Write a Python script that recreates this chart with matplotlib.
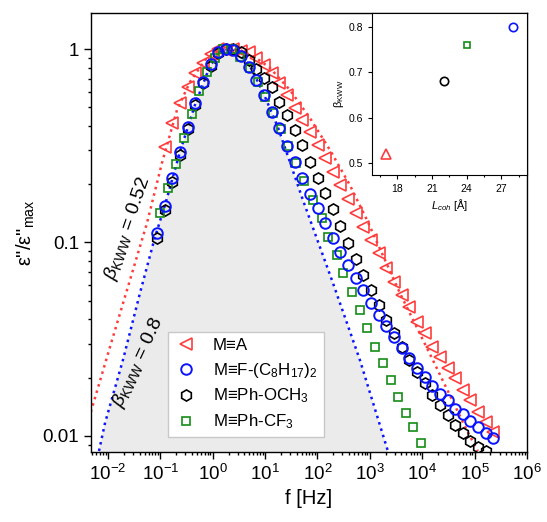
import matplotlib
matplotlib.use("Agg")
import matplotlib.pyplot as plt
from matplotlib.ticker import LogLocator, FixedLocator, NullFormatter, MultipleLocator

plt.rcParams['font.family'] = ['Liberation Sans', 'DejaVu Sans']
plt.rcParams['mathtext.fontset'] = 'custom'
plt.rcParams['mathtext.rm'] = 'Liberation Sans'
plt.rcParams['mathtext.it'] = 'Liberation Sans:italic'
plt.rcParams['mathtext.bf'] = 'Liberation Sans:bold'

# shared frequency grid (Hz) for A, F-(C8H17)2 and Ph-OCH3
freq = [0.0861, 0.1205, 0.1687, 0.236, 0.330, 0.462, 0.647, 0.906, 1.268, 1.774,
        2.483, 3.475, 4.864, 6.808, 9.528, 13.34, 18.66, 26.12, 36.56, 51.17,
        71.61, 100.2, 140.3, 196.3, 274.8, 384.6, 538.3, 753.4, 1054, 1476,
        2065, 2891, 4046, 5662, 7925, 11090, 15520, 21730, 30410, 42560,
        59570, 83370, 116700, 163300, 228600]

# M=A (starts at second grid point)
eps_A = [0.312, 0.415, 0.526, 0.636, 0.751, 0.847, 0.94, 1.0, 0.99,
         1.0, 0.98, 0.965, 0.90, 0.826, 0.751, 0.667, 0.578, 0.496, 0.430,
         0.372, 0.319, 0.273, 0.231, 0.198, 0.168, 0.142, 0.120, 0.103, 0.0883,
         0.0738, 0.0625, 0.0535, 0.0464, 0.0388, 0.0341, 0.0288, 0.0256, 0.0225, 0.0199,
         0.0173, 0.0153, 0.0133, 0.0118, 0.0105]

# M=F-(C8H17)2
eps_F = [0.112, 0.154, 0.216, 0.294, 0.395, 0.526, 0.675, 0.837, 0.965, 1.0,
         0.99, 0.92, 0.807, 0.691, 0.578, 0.472, 0.391, 0.315, 0.261, 0.216,
         0.178, 0.151, 0.126, 0.1055, 0.0893, 0.0765, 0.0656, 0.0568, 0.0487, 0.0422,
         0.0370, 0.0325, 0.0285, 0.0253, 0.0225, 0.0202, 0.0181, 0.0165, 0.0153, 0.0138,
         0.0130, 0.0120, 0.0111, 0.0104, 0.0098]

# M=Ph-OCH3
eps_OCH3 = [0.105, 0.147, 0.205, 0.283, 0.386, 0.514, 0.667, 0.818, 0.955, 1.0,
            1.0, 0.965, 0.877, 0.788, 0.708, 0.636, 0.532, 0.456, 0.381, 0.319,
            0.261, 0.216, 0.180, 0.149, 0.122, 0.0994, 0.0822, 0.0679, 0.0568, 0.0475,
            0.0397, 0.0341, 0.0288, 0.0247, 0.0214, 0.0188, 0.0163, 0.0145, 0.0128, 0.0114,
            0.0104, 0.0094, 0.0088, 0.0084]

# M=Ph-CF3 (own frequency grid)
freq_CF3 = [0.0982, 0.1396, 0.1986, 0.2818, 0.401, 0.546, 0.775, 1.10, 1.565, 2.32,
            3.30, 5.13, 7.29, 9.91, 14.1, 20.0, 27.2, 38.7, 55.0, 81.7,
            119.7, 160, 231.5, 309, 448, 645, 888, 1245, 1746, 2481,
            3467, 4864, 6700, 9270]
eps_CF3 = [0.142, 0.191, 0.255, 0.347, 0.461, 0.607, 0.760, 0.898, 1.0, 1.0,
           0.909, 0.798, 0.675, 0.565, 0.467, 0.386, 0.315, 0.258, 0.208, 0.166,
           0.134, 0.107, 0.0862, 0.0696, 0.0555, 0.0448, 0.0362, 0.0288, 0.0238, 0.0195,
           0.0159, 0.0131, 0.0111, 0.0092]

# KWW curves
kww052_f = [0.0047, 0.0109, 0.0263, 0.0555, 0.1074, 0.2075, 0.367, 0.710, 1.256, 1.95,
            3.30, 6.38, 12.4, 29.7, 71.6, 172.5, 415, 877, 3740, 15920, 71000, 115000]
kww052_y = [0.0133, 0.0288, 0.0640, 0.126, 0.258, 0.484, 0.675, 0.877, 0.988, 1.0,
            0.988, 0.909, 0.798, 0.614, 0.440, 0.301, 0.198, 0.131, 0.0548, 0.0247, 0.0107, 0.00836]
kww08_f = [0.00673, 0.00877, 0.0193, 0.0408, 0.0789, 0.1225, 0.2366, 0.457, 0.885, 1.372,
           1.95, 3.03, 5.13, 9.08, 17.5, 29.7, 52.6, 197, 645, 2207]
kww08_y = [0.00836, 0.01167, 0.0247, 0.0548, 0.1067, 0.156, 0.294, 0.514, 0.817, 0.965,
           1.0, 0.965, 0.817, 0.600, 0.395, 0.261, 0.166, 0.0618, 0.0247, 0.00836]

# inset: beta_KWW vs coherence length
L_coh = [17, 28, 22, 24]
beta = [0.52, 0.80, 0.68, 0.76]

red = '#ff3c3c'
blue = '#0a14ff'
green = '#148c14'

fig = plt.figure(figsize=(5.47, 5.22), dpi=100)
ax = fig.add_axes([0.1664, 0.1341, 0.797, 0.841])

ax.fill_between(kww08_f, kww08_y, 1e-3, color='#ebebeb', lw=0, zorder=0)
ax.plot(kww052_f, kww052_y, ':', color=red, lw=1.8, zorder=1)
ax.plot(kww08_f, kww08_y, ':', color=blue, lw=1.8, zorder=1)

h_A, = ax.plot(freq[1:], eps_A, '<', ms=8, mfc='none', mec=red, mew=1.2, ls='none', zorder=3)
h_O, = ax.plot(freq[:len(eps_OCH3)], eps_OCH3, 'h', ms=8, mfc='none', mec='black', mew=1.2,
               ls='none', zorder=3)
h_C, = ax.plot(freq_CF3, eps_CF3, 's', ms=6.3, mfc='none', mec=green, mew=1.2, ls='none', zorder=3)
h_F, = ax.plot(freq, eps_F, 'o', ms=7.6, mfc='none', mec=blue, mew=1.4, ls='none', zorder=4)

ax.set_xscale('log')
ax.set_yscale('log')
ax.set_xlim(0.00474, 1e6)
ax.set_ylim(0.00826, 1.535)

ax.xaxis.set_major_locator(FixedLocator([1e-2, 1e-1, 1e0, 1e1, 1e2, 1e3, 1e4, 1e5, 1e6]))
ax.xaxis.set_minor_locator(LogLocator(base=10, subs=range(2, 10), numticks=20))
ax.xaxis.set_minor_formatter(NullFormatter())
ax.yaxis.set_major_locator(FixedLocator([0.01, 0.1, 1]))
ax.yaxis.set_major_formatter(plt.FuncFormatter(lambda v, p: '%g' % v))
ax.yaxis.set_minor_locator(LogLocator(base=10, subs=range(2, 10), numticks=20))
ax.yaxis.set_minor_formatter(NullFormatter())
ax.tick_params(which='both', direction='out', top=False, right=False, width=1)
ax.tick_params(which='major', length=5, labelsize=13.5)
ax.tick_params(which='minor', length=2.5)
for s in ax.spines.values():
    s.set_linewidth(1)

ax.set_xlabel('f [Hz]', fontsize=14.5, labelpad=4)
ax.set_ylabel('ε"/ε"$_{\\rm max}$', fontsize=14.5, labelpad=4)

leg = ax.legend([h_A, h_F, h_O, h_C],
                ['M≡A', 'M≡F-(C$_8$H$_{17}$)$_2$', 'M≡Ph-OCH$_3$', 'M≡Ph-CF$_3$'],
                loc='lower left', bbox_to_anchor=(0.177, 0.034), borderaxespad=0,
                fontsize=12.2, fancybox=False, framealpha=1, edgecolor='#c8c8c8',
                handlelength=1.4, handletextpad=0.9, labelspacing=0.42, borderpad=0.35)
leg.get_frame().set_linewidth(1)

fig.text(0.234, 0.563, r'$\beta_{\rm KWW}$ = 0.52', rotation=71, fontsize=14,
         ha='center', va='center', rotation_mode='anchor')
fig.text(0.252, 0.305, r'$\beta_{\rm KWW}$ = 0.8', rotation=65, fontsize=14,
         ha='center', va='center', rotation_mode='anchor')

# inset
ins = fig.add_axes([0.680, 0.665, 0.283, 0.310])
ins.plot(L_coh[0], beta[0], '^', ms=7, mfc='none', mec=red, mew=1.2)
ins.plot(L_coh[1], beta[1], 'o', ms=6, mfc='none', mec=blue, mew=1.2)
ins.plot(L_coh[2], beta[2], 'o', ms=6, mfc='none', mec='black', mew=1.2)
ins.plot(L_coh[3], beta[3], 's', ms=5, mfc='none', mec=green, mew=1.2)
ins.set_xlim(15.8, 29.2)
ins.set_ylim(0.474, 0.83)
ins.xaxis.set_major_locator(MultipleLocator(3))
ins.xaxis.set_minor_locator(MultipleLocator(1.5))
ins.yaxis.set_major_locator(MultipleLocator(0.1))
ins.yaxis.set_major_formatter(plt.FuncFormatter(lambda v, p: '%.1f' % v))
ins.tick_params(which='both', direction='out', labelsize=7.5, width=0.8)
ins.tick_params(which='major', length=3)
ins.tick_params(which='minor', length=1.5)
ins.set_xlabel('$L_{coh}$ [Å]', fontsize=8, labelpad=2)
ins.set_ylabel('β$_{\\rm KWW}$', fontsize=8, labelpad=2)

fig.savefig('out.png', dpi=100)
